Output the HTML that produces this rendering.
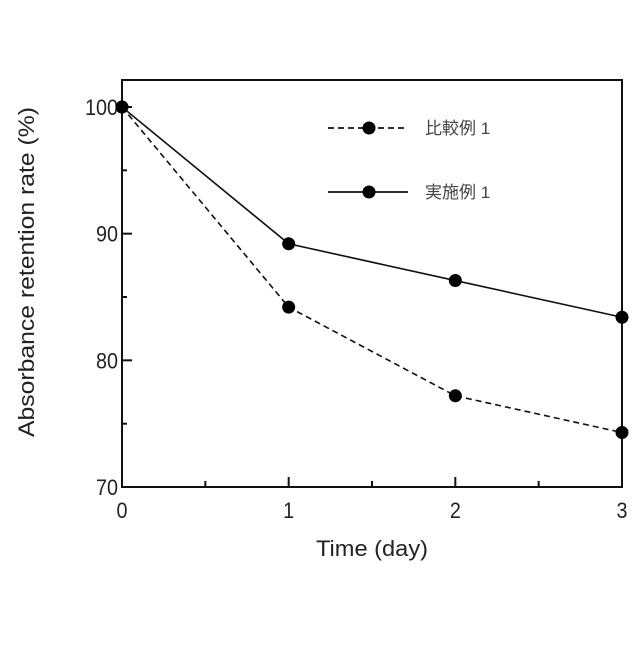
<!DOCTYPE html>
<html><head><meta charset="utf-8"><style>
body{margin:0;background:#fff;}
svg text{font-family:"Liberation Sans","Noto Sans CJK JP",sans-serif;fill:#222;}
</style></head><body>
<svg id="chart" width="640" height="640" viewBox="0 0 640 640" xmlns="http://www.w3.org/2000/svg"></svg>
<script>
const days = [0, 1, 2, 3];
const comparative = [100, 84.2, 77.2, 74.3];
const example = [100, 89.2, 86.3, 83.4];
const xTickLabels = ["0", "1", "2", "3"];
const yTickLabels = ["70", "80", "90", "100"];
const yTickValues = [70, 80, 90, 100];

const L=122,R=622,T=80,B=487;
const xMin=0,xMax=3,yMin=70,yMax=100;
const yTopPx=107;
const xs=v=>L+(v-xMin)/(xMax-xMin)*(R-L);
const ys=v=>B-(v-yMin)/(yMax-yMin)*(B-yTopPx);
const svg=document.getElementById('chart');
const NS='http://www.w3.org/2000/svg';
function mk(tag,attrs,parent){const e=document.createElementNS(NS,tag);for(const k in attrs)e.setAttribute(k,attrs[k]);(parent||svg).appendChild(e);return e;}

let e=mk('rect',{x:L,y:T,width:R-L,height:B-T,fill:'none',stroke:'#111','stroke-width':2});



yTickValues.forEach((v,i)=>{
  let t=mk('line',{x1:L,x2:L+10,y1:ys(v),y2:ys(v),stroke:'#111','stroke-width':2});
  
  
  let tx=mk('text',{x:L-4,y:ys(v)+8,'text-anchor':'end','font-size':22,'textLength':yTickLabels[i].length*11,'lengthAdjust':'spacingAndGlyphs'});
  tx.textContent=yTickLabels[i];
  
  
  if(i<yTickValues.length-1){
    let m=mk('line',{x1:L,x2:L+5,y1:ys(v+5),y2:ys(v+5),stroke:'#111','stroke-width':2});
    
    
  }
});
days.forEach((d,i)=>{
  let t=mk('line',{x1:xs(d),x2:xs(d),y1:B,y2:B-10,stroke:'#111','stroke-width':2});
  
  
  let tx=mk('text',{x:xs(d),y:B+31,'text-anchor':'middle','font-size':22,'textLength':11,'lengthAdjust':'spacingAndGlyphs'});
  tx.textContent=xTickLabels[i];
  
  
  if(i<days.length-1){
    let m=mk('line',{x1:xs(d+0.5),x2:xs(d+0.5),y1:B,y2:B-6,stroke:'#111','stroke-width':2});
    
    
  }
});

let xt=mk('text',{x:372,y:556,'text-anchor':'middle','font-size':22,'textLength':112,'lengthAdjust':'spacingAndGlyphs'});
xt.textContent='Time (day)';


let yt=mk('text',{x:0,y:0,'text-anchor':'middle','font-size':22,'textLength':330,'lengthAdjust':'spacingAndGlyphs',transform:'translate(34,272) rotate(-90)'});
yt.textContent='Absorbance retention rate (%)';



function series(vals,dash,name){
  const pts=days.map((d,i)=>xs(d)+','+ys(vals[i])).join(' ');
  let p=mk('polyline',{points:pts,fill:'none',stroke:'#111','stroke-width':1.6,'stroke-dasharray':dash});
  
  
  days.forEach((d,i)=>{
    let c=mk('circle',{cx:xs(d),cy:ys(vals[i]),r:6.5,fill:'#000'});
    
    
  });
}
series(comparative,'6,4','comparative-example-1');
series(example,'none','example-1');

function leg(y,dash,label,name){
  let l=mk('line',{x1:328,x2:408,y1:y,y2:y,stroke:'#111','stroke-width':1.8,'stroke-dasharray':dash});
  
  
  let c=mk('circle',{cx:369,cy:y,r:6.5,fill:'#000'});
  
  
  let t=mk('text',{x:425,y:y+6,'font-size':17,style:'fill:#444'});
  t.textContent=label;
  
  
}
leg(128,'6,4','比較例 1','comparative-example-1');
leg(192,'none','実施例 1','example-1');
</script>
</body></html>
